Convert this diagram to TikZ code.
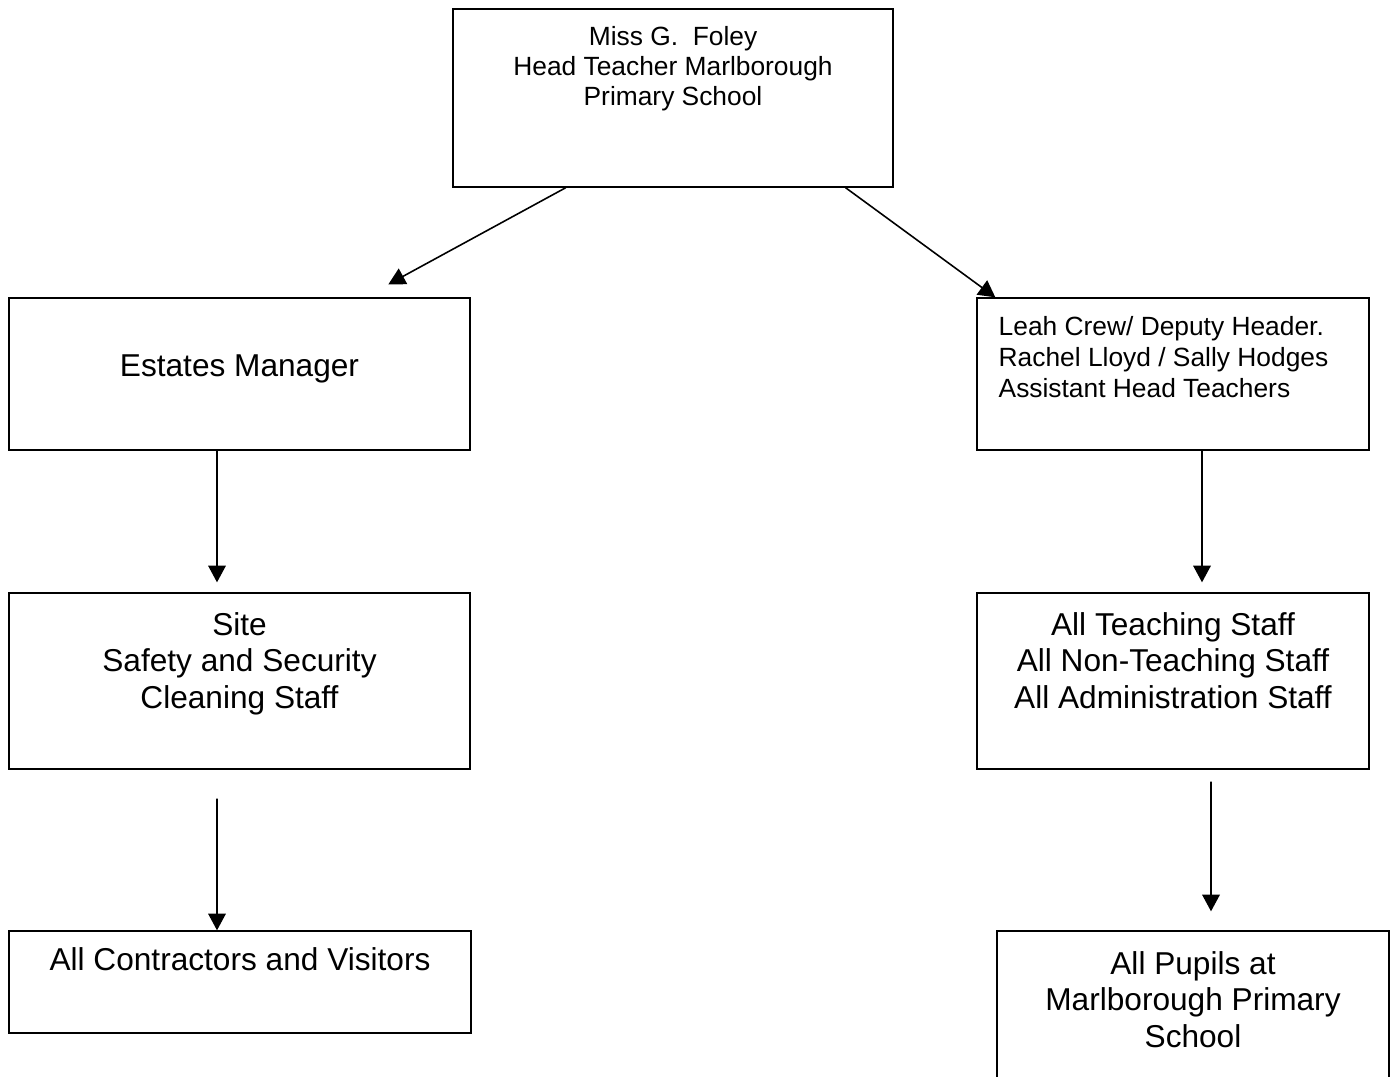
\documentclass[tikz,border=0pt]{standalone}
\usepackage{fontspec}
\setmainfont{Liberation Sans}
\usetikzlibrary{positioning, calc, arrows.meta}

\begin{document}
\begin{tikzpicture}[x=0.02cm, y=-0.02cm, >={Triangle[length=9.5pt,width=10pt]},
  every box/.style={draw, line width=0.8pt, inner sep=0pt},
  small text/.style={inner sep=0pt, align=center, font=\fontsize{15}{17}\selectfont},
  big text/.style={inner sep=0pt, align=center, font=\fontsize{18}{20.7}\selectfont},
  link/.style={->, line width=0.9pt}]
\useasboundingbox (0,0) rectangle (1398,1076);
% boxes
\foreach \n/\x/\y/\w/\h in {head/673/98/8.8/3.56, estates/239.5/374/9.22/3.04,
    deputy/1173/374/7.84/3.04, site/239.5/681/9.22/3.52,
    teaching/1173/681/7.84/3.52, contractors/240/982/9.24/2.04,
    pupils/1193/1005.5/7.84/2.98}
  \node [every box, minimum width=\w cm, minimum height=\h cm] (\n) at (\x,\y) {};
% texts
\node [small text, anchor=north, below=0.36cm of head.north] (head-text)
  {Miss G.\ \ Foley\\Head Teacher Marlborough\\Primary School};
\node [big text, anchor=north, below=1.14cm of estates.north] (estates-text) {Estates Manager};
\node [small text, align=left, font=\fontsize{15}{17.6}\selectfont,
  below right=0.38cm and 0.44cm of deputy.north west] (deputy-text)
  {Leah Crew/ Deputy Header.\\Rachel Lloyd / Sally Hodges\\Assistant Head Teachers};
\node [big text, below=0.4cm of site.north] (site-text)
  {Site\\Safety and Security\\Cleaning Staff};
\node [big text, below=0.4cm of teaching.north] (teaching-text)
  {All Teaching Staff\\All Non-Teaching Staff\\All Administration Staff};
\node [big text, below=0.34cm of contractors.north] (contractors-text)
  {All Contractors and Visitors};
\node [big text, below=0.42cm of pupils.north] (pupils-text)
  {All Pupils at\\Marlborough Primary\\School};
% arrows
\draw [link] ($(head.south west)!0.257!(head.south east)$)
  -- ($(estates.north west)!0.822!(estates.north east) + (0,-13)$);
\draw [link] ($(head.south west)!0.891!(head.south east)$)
  -- ([xshift=0.38cm]deputy.north west);
\draw [link, shorten >=0.2cm] ([xshift=-0.45cm]estates.south) -- ([xshift=-0.45cm]site.north);
\draw [link, shorten >=0.2cm] ([xshift=0.58cm]deputy.south) -- ([xshift=0.58cm]teaching.north);
\draw [link, shorten <=0.58cm] ([xshift=-0.45cm]site.south) -- ([xshift=-0.46cm]contractors.north);
\draw [link, shorten <=0.24cm, shorten >=0.38cm] ([xshift=0.76cm]teaching.south)
  -- ([xshift=0.36cm]pupils.north);
\end{tikzpicture}
\end{document}
